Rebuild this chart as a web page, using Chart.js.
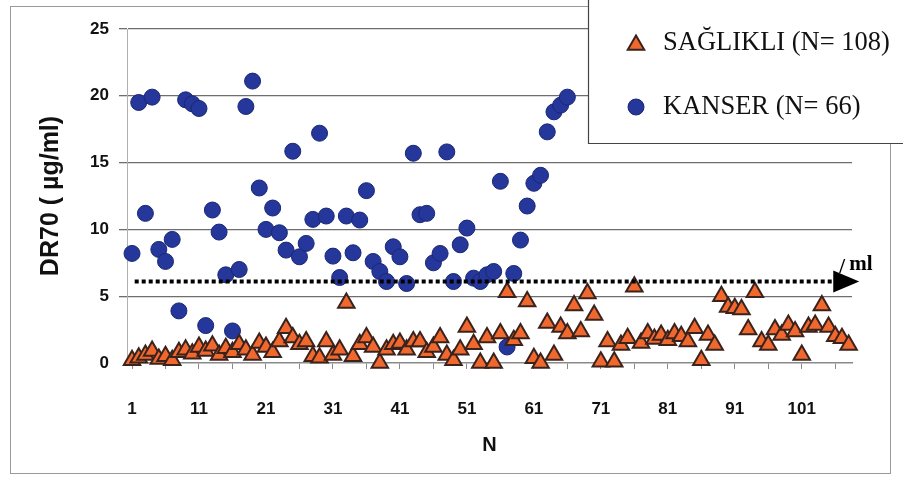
<!DOCTYPE html>
<html lang="tr">
<head>
<meta charset="UTF-8">
<title>DR70 - Sağlıklı / Kanser</title>
<script src="https://cdn.jsdelivr.net/npm/chart.js"></script>
<style>
  html, body { margin: 0; padding: 0; background: #fff; }
  #wrap { width: 903px; height: 486px; position: relative; }
</style>
</head>
<body>
<div id="wrap"><canvas id="dr70Chart" width="903" height="486"></canvas></div>
<script>
// values
const healthyLabel = 'SAĞLIKLI (N= 108)';
const cancerLabel = 'KANSER (N= 66)';

const healthyValues = [
  0.2, 0.4, 0.6, 0.9, 0.3, 0.5, 0.2, 0.8, 1.0, 0.7,
  1.2, 0.9, 1.3, 0.6, 1.1, 0.8, 1.4, 1.0, 0.6, 1.5,
  1.2, 0.8, 1.6, 2.6, 1.9, 1.4, 1.6, 0.5, 0.4, 1.6,
  0.6, 1.0, 4.5, 0.5, 1.4, 1.9, 1.2, 0.0, 1.0, 1.4,
  1.5, 1.0, 1.6, 1.6, 0.8, 1.2, 1.9, 0.6, 0.2, 1.0,
  2.7, 1.4, 0.0, 1.9, 0.0, 2.2, 5.3, 1.7, 2.2, 4.6,
  0.35, 0.0, 3.0, 0.6, 2.7, 2.2, 4.3, 2.35, 5.2, 3.6,
  0.1, 1.6, 0.1, 1.35, 1.85, 5.7, 1.5, 2.2, 1.8, 2.1,
  1.7, 2.2, 2.0, 1.6, 2.6, 0.2, 2.1, 1.35, 5.0, 4.2,
  4.1, 4.0, 2.5, 5.3, 1.6, 1.35, 2.5, 2.1, 2.85, 2.35,
  0.6, 2.7, 2.85, 4.3, 2.7, 2.0, 1.85, 1.35
];

const cancerValues = [
  8.2, 19.5, 11.2, 19.9, 8.5, 7.6, 9.25, 3.9, 19.7, 19.4,
  19.05, 2.8, 11.45, 9.8, 6.6, 2.4, 7.0, 19.2, 21.1, 13.1,
  10.0, 11.6, 9.75, 8.45, 15.85, 7.95, 8.95, 10.75, 17.2, 11.0,
  8.0, 6.4, 11.0, 8.25, 10.7, 12.9, 7.6, 6.85, 6.1, 8.7,
  7.95, 5.95, 15.7, 11.1, 11.2, 7.5, 8.2, 15.8, 6.1, 8.85,
  10.1, 6.35, 6.1, 6.6, 6.85, 13.6, 1.2, 6.7, 9.2, 11.75,
  13.45, 14.05, 17.3, 18.8, 19.3, 19.9
];

const xTickLabels = [1, 11, 21, 31, 41, 51, 61, 71, 81, 91, 101];
const cutoffValue = 6.1;
const cutoffFrom = 1.4;
const cutoffTo = 106;

const toPoints = vals => vals.map((v, i) => ({ x: i + 1, y: v }));

const frameAndBg = {
  id: 'frameAndBg',
  beforeDraw(chart) {
    const ctx = chart.ctx;
    ctx.save();
    ctx.fillStyle = '#fff';
    ctx.fillRect(0, 0, chart.width, chart.height);
    ctx.strokeStyle = '#9a9a9a';
    ctx.lineWidth = 1;
    ctx.strokeRect(10.5, 6.5, 880, 467);
    ctx.restore();
  }
};

// arrow head + unit at the end of the dotted cut-off line
const cutoffArrow = {
  id: 'cutoffArrow',
  afterDatasetsDraw(chart) {
    const { ctx, scales } = chart;
    const y = scales.y.getPixelForValue(cutoffValue);
    const x = scales.x.getPixelForValue(cutoffTo);
    ctx.save();
    ctx.fillStyle = '#000';
    ctx.beginPath();
    ctx.moveTo(x - 2, y - 11);
    ctx.lineTo(x + 24, y);
    ctx.lineTo(x - 2, y + 11);
    ctx.closePath();
    ctx.fill();
    ctx.font = 'bold 21px "Liberation Serif"';
    ctx.textBaseline = 'alphabetic';
    ctx.fillText('/', x + 4, y - 9);
    ctx.fillText('ml', x + 14, y - 12);
    ctx.restore();
  }
};

// boxed legend in the upper right corner, built from the datasets
const boxLegend = {
  id: 'boxLegend',
  afterDraw(chart) {
    const ctx = chart.ctx;
    ctx.save();
    ctx.fillStyle = '#fff';
    ctx.fillRect(588, 0, 320, 143);
    ctx.strokeStyle = '#444';
    ctx.lineWidth = 1.2;
    ctx.beginPath();
    ctx.moveTo(588.5, 0);
    ctx.lineTo(588.5, 143.5);
    ctx.lineTo(903, 143.5);
    ctx.stroke();
    const rows = chart.data.datasets.filter(d => d.label);
    rows.forEach((ds, i) => {
      const cy = 43 + i * 64;
      ctx.fillStyle = ds.pointBackgroundColor;
      ctx.strokeStyle = ds.pointBorderColor;
      ctx.lineWidth = ds.pointBorderWidth;
      Chart.helpers.drawPoint(ctx, {
        pointStyle: ds.pointStyle,
        radius: ds.pointRadius,
        borderWidth: ds.pointBorderWidth,
        rotation: 0
      }, 636, cy + (ds.pointStyle === 'triangle' ? 2 : 0));
      ctx.fillStyle = '#111';
      ctx.font = '26.5px "Liberation Serif"';
      ctx.textBaseline = 'middle';
      ctx.fillText(ds.label, 663, cy);
    });
    ctx.restore();
  }
};

new Chart(document.getElementById('dr70Chart'), {
  type: 'scatter',
  data: {
    datasets: [
      {
        data: [{ x: cutoffFrom, y: cutoffValue }, { x: cutoffTo, y: cutoffValue }],
        type: 'line',
        showLine: true,
        borderColor: '#000',
        borderWidth: 4,
        borderDash: [4, 3],
        pointRadius: 0,
        order: 0,
        clip: false
      },
      {
        label: healthyLabel,
        data: toPoints(healthyValues),
        pointStyle: 'triangle',
        pointRadius: 9.5,
        pointBackgroundColor: '#f1682f',
        pointBorderColor: '#3a231d',
        pointBorderWidth: 2,
        order: 1,
        clip: false
      },
      {
        label: cancerLabel,
        data: toPoints(cancerValues),
        pointStyle: 'circle',
        pointRadius: 8,
        pointBackgroundColor: '#25379b',
        pointBorderColor: '#1a2874',
        pointBorderWidth: 1,
        order: 2,
        clip: false
      }
    ]
  },
  options: {
    responsive: false,
    animation: false,
    layout: { padding: { top: 29, right: 51, bottom: 0, left: 0 } },
    plugins: {
      legend: { display: false },
      tooltip: { enabled: false }
    },
    scales: {
      x: {
        type: 'linear',
        min: 0.25,
        max: 108.5,
        afterBuildTicks(scale) {
          const t = [];
          for (let v = 1; v <= 106; v += 5) t.push({ value: v });
          scale.ticks = t;
        },
        afterFit(scale) { scale.height = 123; },
        border: { color: '#8a8a8a', width: 1.5 },
        grid: { drawOnChartArea: false, drawTicks: true, tickLength: 6, color: '#8a8a8a' },
        ticks: {
          autoSkip: false,
          maxRotation: 0,
          padding: 30,
          color: '#111',
          font: { family: '"Liberation Sans", Arial', size: 17, weight: 'bold' },
          callback: v => (xTickLabels.includes(v) ? String(v) : '')
        },
        title: {
          display: true,
          text: 'N',
          color: '#111',
          font: { family: '"Liberation Sans", Arial', size: 20, weight: 'bold', lineHeight: 1.2 },
          padding: { top: 0, bottom: 29 }
        }
      },
      y: {
        min: 0,
        max: 25,
        afterFit(scale) { scale.width = 127; },
        border: { color: '#b0b0b0', width: 1 },
        grid: {
          color: ctx => (ctx.tick && ctx.tick.value === 0 ? 'rgba(0,0,0,0)' : '#6e6e6e'),
          lineWidth: 1.3,
          tickLength: 8
        },
        ticks: {
          stepSize: 5,
          padding: 10,
          color: '#111',
          font: { family: '"Liberation Sans", Arial', size: 17, weight: 'bold' }
        },
        title: {
          display: true,
          text: 'DR70 ( µg/ml)',
          color: '#111',
          font: { family: '"Liberation Sans", Arial', size: 25, weight: 'bold', lineHeight: 1.2 },
          padding: { top: 36, bottom: 0 }
        }
      }
    }
  },
  plugins: [frameAndBg, cutoffArrow, boxLegend]
});
</script>
</body>
</html>
